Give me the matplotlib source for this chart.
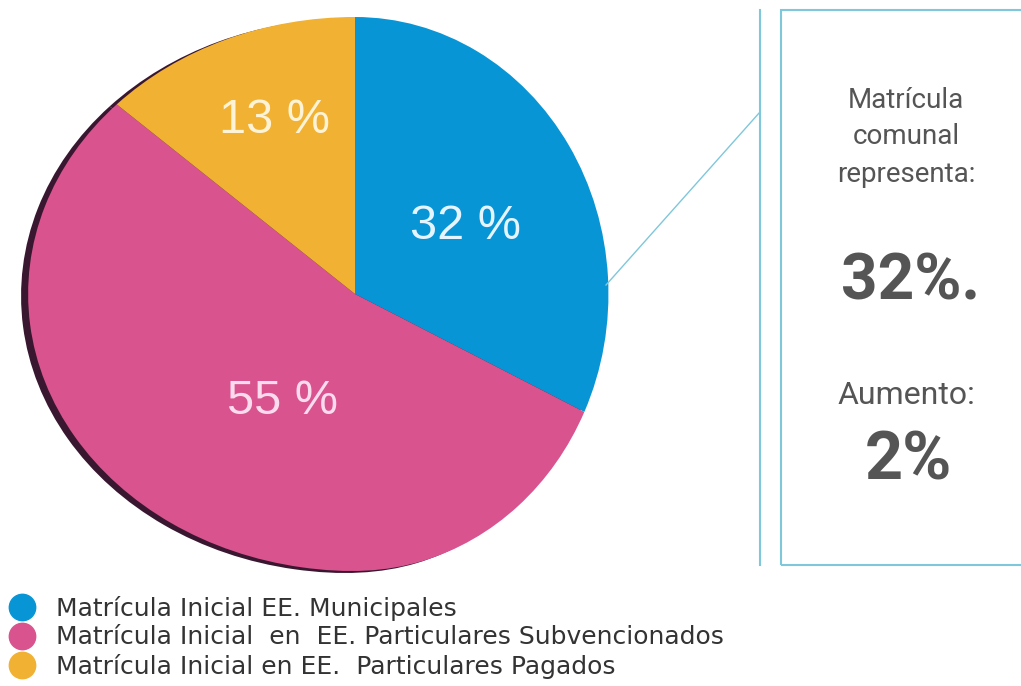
import numpy as np
import matplotlib
matplotlib.use("Agg")
import matplotlib.pyplot as plt
import matplotlib.transforms as mtransforms
from matplotlib.patches import Rectangle
from matplotlib.lines import Line2D

# data
labels = ["Matrícula Inicial EE. Municipales",
          "Matrícula Inicial  en  EE. Particulares Subvencionados",
          "Matrícula Inicial en EE.  Particulares Pagados"]
values = [32, 55, 13]
pct_text = ["32 %", "55 %", "13 %"]
colors = ["#0895d6", "#d9548f", "#f1b133"]
label_colors = ["#e4f5ff", "#fbdcef", "#fff3d6"]
label_r = [0.48, 0.45, 0.70]

box_lines = ["Matrícula", "comunal", "representa:"]
big_value = "32%."
increase_title = "Aumento:"
increase_value = "2%"

H = 686
CX, CY, R = 355, H - 294, 277


class Squash(mtransforms.Transform):
    # stretch left side, shrink right side -> tilted 3D look
    input_dims = output_dims = 2

    def __init__(self, cx, left, right):
        super().__init__()
        self.cx, self.left, self.right = cx, left, right

    def transform_non_affine(self, xy):
        xy = np.array(xy, dtype=float)
        dx = xy[:, 0] - self.cx
        xy[:, 0] = self.cx + np.where(dx < 0, dx * self.left, dx * self.right)
        return xy


fig = plt.figure(figsize=(10.21, 6.86), dpi=100)
ax = fig.add_axes([0, 0, 1, 1])

sq = Squash(CX, 1.18, 0.915)

# dark rim behind the pie
shadow, _ = ax.pie(values, startangle=90, counterclock=False, radius=R,
                   center=(CX - 6, CY - 2), colors=["#3a1731"] * 3, frame=True)
for w in shadow:
    w.set_transform(sq + ax.transData)

wedges, _ = ax.pie(values, startangle=90, counterclock=False, radius=R,
                   center=(CX, CY), colors=colors, frame=True)
for w in wedges:
    w.set_transform(sq + ax.transData)

for w, t, r, c in zip(wedges, pct_text, label_r, label_colors):
    ang = np.deg2rad((w.theta1 + w.theta2) / 2)
    ax.text(CX + r * R * np.cos(ang) + 9, CY + r * R * np.sin(ang) - 4, t,
            transform=sq + ax.transData, ha="center", va="center",
            fontsize=35, color=c, family="Liberation Sans")

# callout lines and box
lc = "#7fc7db"
ax.plot([760, 760], [H - 565, H - 10], color=lc, lw=1.5)
ax.plot([760, 606], [H - 112, H - 285], color=lc, lw=1)
ax.add_patch(Rectangle((781, H - 565), 260, 555, fill=False, ec=lc, lw=1.5))

fam = ["Roboto", "DejaVu Sans"]
tc = "#555555"
for s, y in zip(box_lines, [100, 137, 175]):
    ax.text(906, H - y, s, ha="center", va="center", fontsize=20, color=tc, family=fam)
ax.text(911, H - 282, big_value, ha="center", va="center", fontsize=46,
        color=tc, family=fam, fontweight="bold")
ax.text(906, H - 395, increase_title, ha="center", va="center", fontsize=23,
        color=tc, family=fam)
ax.text(908, H - 461, increase_value, ha="center", va="center", fontsize=48,
        color=tc, family=fam, fontweight="bold")

ax.set_xlim(0, 1021)
ax.set_ylim(0, H)
ax.set_aspect("auto")
ax.axis("off")

handles = [Line2D([], [], ls="", marker="o", ms=19, color=c) for c in colors]
fig.legend(handles, labels, loc="upper left", bbox_to_anchor=(3 / 1021, 1 - 591 / H),
           frameon=False, handlelength=1.1, handletextpad=0.8, labelspacing=0.18,
           borderaxespad=0, borderpad=0.2, prop={"family": "DejaVu Sans", "size": 18},
           labelcolor="#333333")

fig.savefig("out.png", dpi=100)
